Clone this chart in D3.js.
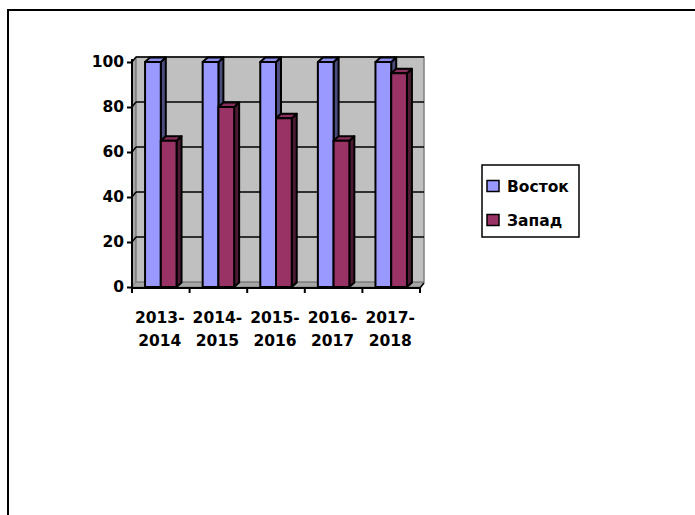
<!DOCTYPE html>
<html>
<head>
<meta charset="utf-8">
<script src="https://cdn.jsdelivr.net/npm/d3@7"></script>
<style>
  body { margin: 0; background: #fff; }
  text { font-family: "DejaVu Sans", sans-serif; font-weight: bold; font-size: 15.5px; }
</style>
</head>
<body>
<div id="chart"></div>
<script>
// data
var categories = ["2013-2014", "2014-2015", "2015-2016", "2016-2017", "2017-2018"];
var seriesNames = ["Восток", "Запад"];
var vostok = [100, 100, 100, 100, 100];
var zapad = [65, 80, 75, 65, 95];
var yTicks = [0, 20, 40, 60, 80, 100];

var colors = { "Восток": "#9999FF", "Запад": "#993366" };
var sideColors = { "Восток": "#4D4D80", "Запад": "#4D1A33" };
var topColors = { "Восток": "#8C8CEB", "Запад": "#8A2E5C" };

var width = 695, height = 515;

var svg = d3.select("#chart").append("svg")
    .attr("width", width)
    .attr("height", height);

// outer frame (only top and left visible)
svg.append("rect")
    .attr("x", 8).attr("y", 10)
    .attr("width", 720).attr("height", 540)
    .attr("fill", "none").attr("stroke", "#000").attr("stroke-width", 2);

var x = d3.scaleBand().domain(categories).range([132, 420]);
var x1 = d3.scaleBand().domain(seriesNames).range([0, x.bandwidth()]).paddingOuter(0.83);
var y = d3.scaleLinear().domain([0, 100]).range([287, 62]);

var wdx = 4, wdy = -5;   // wall depth
var bdx = 5, bdy = -4.5; // bar depth

var x0 = x.range()[0], xEnd = x.range()[1];
var yb = y(0), yt = y(100);

// walls
var g = svg.append("g");
g.append("polygon")
    .attr("points", [[x0, yt], [x0 + wdx, yt + wdy], [x0 + wdx, yb + wdy], [x0, yb]].join(" "))
    .attr("fill", "#A6A6A6").attr("stroke", "#808080").attr("stroke-width", 1);
g.append("polygon")
    .attr("points", [[x0, yb], [xEnd, yb], [xEnd + wdx, yb + wdy], [x0 + wdx, yb + wdy]].join(" "))
    .attr("fill", "#A6A6A6").attr("stroke", "#808080").attr("stroke-width", 1);
g.append("rect")
    .attr("x", x0 + wdx).attr("y", yt + wdy)
    .attr("width", xEnd - x0).attr("height", yb - yt)
    .attr("fill", "#C0C0C0").attr("stroke", "#808080").attr("stroke-width", 1.5);

// gridlines on back wall
g.selectAll(".grid").data(yTicks.slice(1))
    .enter().append("line")
    .attr("x1", x0 + wdx).attr("x2", xEnd + wdx)
    .attr("y1", function (d) { return y(d) + wdy; })
    .attr("y2", function (d) { return y(d) + wdy; })
    .attr("stroke", "#000").attr("stroke-width", 1.5);
g.selectAll(".gridside").data(yTicks.slice(1))
    .enter().append("line")
    .attr("x1", x0).attr("x2", x0 + wdx)
    .attr("y1", function (d) { return y(d); })
    .attr("y2", function (d) { return y(d) + wdy; })
    .attr("stroke", "#000").attr("stroke-width", 1.5);

// bars
var rows = [];
categories.forEach(function (c, i) {
    rows.push({ cat: c, name: "Восток", value: vostok[i] });
    rows.push({ cat: c, name: "Запад", value: zapad[i] });
});

var bars = svg.append("g").selectAll("g").data(rows)
    .enter().append("g");

bars.each(function (d) {
    var b = d3.select(this);
    var bx = x(d.cat) + x1(d.name), bw = x1.bandwidth();
    var by = y(d.value);
    b.append("polygon")
        .attr("points", [[bx + bw, by], [bx + bw + bdx, by + bdy], [bx + bw + bdx, yb + bdy], [bx + bw, yb]].join(" "))
        .attr("fill", sideColors[d.name]);
    b.append("polygon")
        .attr("points", [[bx, by], [bx + bdx, by + bdy], [bx + bw + bdx, by + bdy], [bx + bw, by]].join(" "))
        .attr("fill", topColors[d.name]);
    b.append("rect")
        .attr("x", bx).attr("y", by)
        .attr("width", bw).attr("height", yb - by)
        .attr("fill", colors[d.name]);
});
bars.selectAll("*")
    .attr("stroke", "#000").attr("stroke-width", 2).attr("stroke-linejoin", "round");

// axes
var yAxis = svg.append("g")
    .attr("transform", "translate(" + x0 + ",0)")
    .call(d3.axisLeft(y).tickValues(yTicks).tickSize(5).tickPadding(3));
yAxis.select(".domain").attr("stroke-width", 2).attr("d", "M0," + yb + "V" + (yt - 3));
yAxis.selectAll(".tick line").attr("stroke-width", 2);
yAxis.selectAll("text").attr("fill", "#000").style("font-size", "15.5px");

var xTickScale = d3.scaleLinear().domain([0, categories.length]).range([x0, xEnd]);
var xAxis = svg.append("g")
    .attr("transform", "translate(0," + (yb + 1) + ")");
xAxis.append("line")
    .attr("x1", x0).attr("x2", xEnd)
    .attr("stroke", "#000").attr("stroke-width", 2);
xAxis.selectAll(".xt").data(d3.range(categories.length + 1))
    .enter().append("line")
    .attr("x1", function (d) { return xTickScale(d); })
    .attr("x2", function (d) { return xTickScale(d); })
    .attr("y1", 0).attr("y2", 5)
    .attr("stroke", "#000").attr("stroke-width", 2);
xAxis.append("line")
    .attr("x1", xEnd).attr("y1", 0)
    .attr("x2", xEnd + wdx).attr("y2", wdy)
    .attr("stroke", "#000").attr("stroke-width", 1.5);

var xl = svg.append("g").selectAll("text").data(categories)
    .enter().append("text")
    .attr("text-anchor", "middle")
    .attr("x", function (d) { return x(d) + x.bandwidth() / 2 - 1; });
xl.append("tspan").attr("y", 323).text(function (d) { return d.split("-")[0] + "-"; });
xl.append("tspan")
    .attr("x", function (d) { return x(d) + x.bandwidth() / 2 - 1; })
    .attr("y", 346).text(function (d) { return d.split("-")[1]; });

// legend
var legend = svg.append("g");
legend.append("rect")
    .attr("x", 482).attr("y", 165)
    .attr("width", 97).attr("height", 72)
    .attr("fill", "#fff").attr("stroke", "#000").attr("stroke-width", 1.5);
var li = legend.selectAll(".li").data(seriesNames)
    .enter().append("g")
    .attr("transform", function (d, i) { return "translate(487," + (186 + i * 34) + ")"; });
li.append("rect")
    .attr("x", 0).attr("y", -5.5)
    .attr("width", 12).attr("height", 11)
    .attr("fill", function (d) { return colors[d]; })
    .attr("stroke", "#000").attr("stroke-width", 1.5);
li.append("text")
    .attr("x", 20).attr("dy", "0.36em")
    .text(function (d) { return d; });
</script>
</body>
</html>
